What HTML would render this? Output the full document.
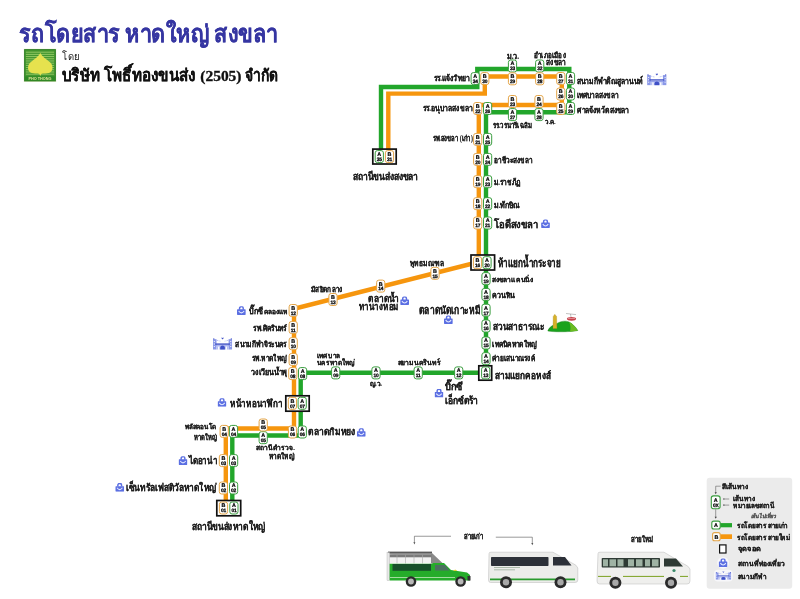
<!DOCTYPE html>
<html><head><meta charset="utf-8"><style>
html,body{margin:0;padding:0;background:#fff;}
body{width:800px;height:599px;overflow:hidden;position:relative;}
svg{position:absolute;left:0;top:0;}
#m{will-change:transform;}
.sl{font-family:"Liberation Sans",sans-serif;font-size:5.4px;font-weight:bold;text-anchor:middle;fill:#000;stroke:#000;stroke-width:0.2px;text-rendering:geometricPrecision;}
.sn{font-family:"Liberation Sans",sans-serif;font-size:4.9px;font-weight:bold;text-anchor:middle;fill:#000;stroke:#000;stroke-width:0.25px;letter-spacing:-0.2px;text-rendering:geometricPrecision;}
.t{font-family:"Liberation Serif",serif;}
</style></head><body>
<svg id="m" width="800" height="599" viewBox="0 0 800 599">
<rect x="706.7" y="477.8" width="85.5" height="110.9" rx="3" fill="#ebebeb"/><path d="M720.7,486.2 H715.7 V493" fill="none" stroke="#444" stroke-width="0.5"/><path d="M714.6,492.2 L715.7,494.2 L716.8,492.2 Z" fill="#444"/><rect x="711.3" y="495.9" width="8.8" height="12.8" rx="2.2" fill="#fff" stroke="#3a9d3f" stroke-width="1.1"/><text x="715.7" y="501.6" class="sl">A</text><text x="715.7" y="507" class="sn">0X</text><path d="M723,499 H729.2 M723,505.1 H729.2" stroke="#444" stroke-width="0.5"/><path d="M723,499 l1.3,-0.8 v1.6 Z M723,505.1 l1.3,-0.8 v1.6 Z" fill="#444"/><path d="M715.7,509.3 V517.5" stroke="#444" stroke-width="0.5"/><path d="M714.6,516.8 L715.7,518.8 L716.8,516.8 Z" fill="#444"/><rect x="720" y="523.1" width="12" height="4.2" fill="#22a62b"/><rect x="711.8" y="521.1" width="8.4" height="7.9" rx="2" fill="#fff" stroke="#3a9d3f" stroke-width="1.1"/><text x="716" y="527.3" class="sl">A</text><rect x="720" y="534.3" width="12" height="4.7" fill="#f6960e"/><rect x="712.6" y="532.6" width="7.6" height="8.2" rx="2" fill="#fff" stroke="#e3a447" stroke-width="1.1"/><text x="716.4" y="539" class="sl">B</text><rect x="719.6" y="544.9" width="6.4" height="8.1" fill="#fff" stroke="#111" stroke-width="1.2"/><circle cx="723.1" cy="562.9" r="5.9" fill="#f8f8fb"/><svg x="718.7" y="558.4" width="8.8" height="8.6" viewBox="0 0 9 8.8" preserveAspectRatio="none"><path d="M2.6,3.6 V2.2 A1.9,1.9 0 0 1 6.4,2.2 V3.6" fill="none" stroke="#5b6fe2" stroke-width="1.5"/><rect x="0" y="3.1" width="9" height="5.7" rx="0.7" fill="#5b6fe2"/><path d="M1.7,4.8 Q4.5,8.6 7.3,4.8" fill="none" stroke="#e6eaff" stroke-width="1.1"/></svg><rect x="714" y="569.8" width="18.8" height="11.6" rx="4" fill="#f7f7fa"/><svg x="715.5" y="571.1" width="15.8" height="8.8" viewBox="0 0 20 13" preserveAspectRatio="none"><rect x="0.2" y="2.2" width="3.6" height="10.3" fill="#8a98e8"/><rect x="16.2" y="2.2" width="3.6" height="10.3" fill="#8a98e8"/><g fill="#fff"><rect x="1" y="4.2" width="1.2" height="0.8"/><rect x="1" y="6.6" width="1.2" height="0.8"/><rect x="1" y="9" width="1.2" height="0.8"/><rect x="17.8" y="4.2" width="1.2" height="0.8"/><rect x="17.8" y="6.6" width="1.2" height="0.8"/><rect x="17.8" y="9" width="1.2" height="0.8"/></g><rect x="3.8" y="9.3" width="12.4" height="3.2" fill="#b4bef2"/><rect x="2.5" y="6.4" width="15" height="1.4" fill="#3f50c6"/><rect x="3" y="8.3" width="14" height="0.9" fill="#8a98e8"/><path d="M7.6,12.6 V10.6 A2.4,2 0 0 1 12.4,10.6 V12.6 Z" fill="#3f50c6"/><rect x="5.4" y="9.6" width="1.3" height="3.2" fill="#fff"/><rect x="13.3" y="9.6" width="1.3" height="3.2" fill="#fff"/><path d="M1,2.6 L8,4.2 M19,2.6 L12,4.2" stroke="#8a98e8" stroke-width="0.6" stroke-dasharray="1 0.7"/><path d="M8.7,0.9 Q9.3,0 10,0.9 Q10.7,0 11.3,0.9 L10,2.5 Z" fill="#3f50c6"/><rect x="0.4" y="1.4" width="1.2" height="1" fill="#3f50c6"/><rect x="18.4" y="1.4" width="1.2" height="1" fill="#3f50c6"/></svg><path d="M381,152 V87 H477.3 V69 H569.3 V112.2 H486 V372.8 H300.7 V435.5 H232.3 V508" fill="none" stroke="#22a62b" stroke-width="4.4" stroke-linejoin="miter"/><path d="M388.3,152 V93.6 H484.8 V76.5 H561.8 V105 H478.8 V262 L294,308.8 V428.5 H225.8 V508" fill="none" stroke="#f6960e" stroke-width="4.4" stroke-linejoin="miter"/><rect x="372.8" y="149.10000000000002" width="23.4" height="14.9" fill="#fff" stroke="#111" stroke-width="1.7"/><rect x="471.0" y="255.0" width="23.599999999999987" height="15.000000000000023" fill="#fff" stroke="#111" stroke-width="1.7"/><rect x="478.8" y="365.8" width="12.9" height="14.4" fill="#fff" stroke="#111" stroke-width="1.7"/><rect x="285.8" y="395.8" width="23.4" height="15.4" fill="#fff" stroke="#111" stroke-width="1.7"/><rect x="216.8" y="500.5" width="23.9" height="15.300000000000034" fill="#fff" stroke="#111" stroke-width="1.7"/><rect x="375.2" y="150.6" width="8.2" height="12" rx="2.3" fill="#fff" stroke="#3a9d3f" stroke-width="1"/><text x="379.3" y="156.0" class="sl">A</text><text x="379.3" y="160.9" class="sn">35</text><rect x="471.1" y="72.6" width="8.2" height="12" rx="2.3" fill="#fff" stroke="#3a9d3f" stroke-width="1"/><text x="475.2" y="78.0" class="sl">A</text><text x="475.2" y="82.9" class="sn">34</text><rect x="508.4" y="60.0" width="8.2" height="12" rx="2.3" fill="#fff" stroke="#3a9d3f" stroke-width="1"/><text x="512.5" y="65.4" class="sl">A</text><text x="512.5" y="70.3" class="sn">33</text><rect x="535.6" y="60.0" width="8.2" height="12" rx="2.3" fill="#fff" stroke="#3a9d3f" stroke-width="1"/><text x="539.7" y="65.4" class="sl">A</text><text x="539.7" y="70.3" class="sn">32</text><rect x="566.4" y="72.5" width="8.2" height="12" rx="2.3" fill="#fff" stroke="#3a9d3f" stroke-width="1"/><text x="570.5" y="77.9" class="sl">A</text><text x="570.5" y="82.8" class="sn">31</text><rect x="566.4" y="88.0" width="8.2" height="12" rx="2.3" fill="#fff" stroke="#3a9d3f" stroke-width="1"/><text x="570.5" y="93.4" class="sl">A</text><text x="570.5" y="98.3" class="sn">30</text><rect x="566.4" y="102.5" width="8.2" height="12" rx="2.3" fill="#fff" stroke="#3a9d3f" stroke-width="1"/><text x="570.5" y="107.9" class="sl">A</text><text x="570.5" y="112.8" class="sn">29</text><rect x="534.9" y="108.6" width="8.2" height="12" rx="2.3" fill="#fff" stroke="#3a9d3f" stroke-width="1"/><text x="539.0" y="114.0" class="sl">A</text><text x="539.0" y="118.9" class="sn">28</text><rect x="508.4" y="108.6" width="8.2" height="12" rx="2.3" fill="#fff" stroke="#3a9d3f" stroke-width="1"/><text x="512.5" y="114.0" class="sl">A</text><text x="512.5" y="118.9" class="sn">27</text><rect x="483.5" y="102.5" width="8.2" height="12" rx="2.3" fill="#fff" stroke="#3a9d3f" stroke-width="1"/><text x="487.6" y="107.9" class="sl">A</text><text x="487.6" y="112.8" class="sn">26</text><rect x="483.5" y="133.4" width="8.2" height="12" rx="2.3" fill="#fff" stroke="#3a9d3f" stroke-width="1"/><text x="487.6" y="138.8" class="sl">A</text><text x="487.6" y="143.7" class="sn">25</text><rect x="483.5" y="153.4" width="8.2" height="12" rx="2.3" fill="#fff" stroke="#3a9d3f" stroke-width="1"/><text x="487.6" y="158.8" class="sl">A</text><text x="487.6" y="163.7" class="sn">24</text><rect x="483.5" y="175.7" width="8.2" height="12" rx="2.3" fill="#fff" stroke="#3a9d3f" stroke-width="1"/><text x="487.6" y="181.1" class="sl">A</text><text x="487.6" y="186.0" class="sn">23</text><rect x="483.5" y="197.7" width="8.2" height="12" rx="2.3" fill="#fff" stroke="#3a9d3f" stroke-width="1"/><text x="487.6" y="203.1" class="sl">A</text><text x="487.6" y="208.0" class="sn">22</text><rect x="483.5" y="217.0" width="8.2" height="12" rx="2.3" fill="#fff" stroke="#3a9d3f" stroke-width="1"/><text x="487.6" y="222.4" class="sl">A</text><text x="487.6" y="227.3" class="sn">21</text><rect x="482.9" y="256.7" width="8.2" height="12" rx="2.3" fill="#fff" stroke="#3a9d3f" stroke-width="1"/><text x="487.0" y="262.1" class="sl">A</text><text x="487.0" y="267.0" class="sn">20</text><rect x="481.9" y="272.7" width="8.2" height="12" rx="2.3" fill="#fff" stroke="#3a9d3f" stroke-width="1"/><text x="486.0" y="278.1" class="sl">A</text><text x="486.0" y="283.0" class="sn">19</text><rect x="481.9" y="288.5" width="8.2" height="12" rx="2.3" fill="#fff" stroke="#3a9d3f" stroke-width="1"/><text x="486.0" y="293.9" class="sl">A</text><text x="486.0" y="298.8" class="sn">18</text><rect x="481.9" y="304.2" width="8.2" height="12" rx="2.3" fill="#fff" stroke="#3a9d3f" stroke-width="1"/><text x="486.0" y="309.6" class="sl">A</text><text x="486.0" y="314.5" class="sn">17</text><rect x="481.9" y="320.0" width="8.2" height="12" rx="2.3" fill="#fff" stroke="#3a9d3f" stroke-width="1"/><text x="486.0" y="325.4" class="sl">A</text><text x="486.0" y="330.3" class="sn">16</text><rect x="481.9" y="337.0" width="8.2" height="12" rx="2.3" fill="#fff" stroke="#3a9d3f" stroke-width="1"/><text x="486.0" y="342.4" class="sl">A</text><text x="486.0" y="347.3" class="sn">15</text><rect x="481.9" y="352.7" width="8.2" height="12" rx="2.3" fill="#fff" stroke="#3a9d3f" stroke-width="1"/><text x="486.0" y="358.1" class="sl">A</text><text x="486.0" y="363.0" class="sn">14</text><rect x="481.6" y="366.9" width="8.2" height="12" rx="2.3" fill="#fff" stroke="#3a9d3f" stroke-width="1"/><text x="485.7" y="372.3" class="sl">A</text><text x="485.7" y="377.2" class="sn">13</text><rect x="454.6" y="366.9" width="8.2" height="12" rx="2.3" fill="#fff" stroke="#3a9d3f" stroke-width="1"/><text x="458.7" y="372.3" class="sl">A</text><text x="458.7" y="377.2" class="sn">12</text><rect x="414.1" y="366.9" width="8.2" height="12" rx="2.3" fill="#fff" stroke="#3a9d3f" stroke-width="1"/><text x="418.2" y="372.3" class="sl">A</text><text x="418.2" y="377.2" class="sn">11</text><rect x="371.9" y="366.9" width="8.2" height="12" rx="2.3" fill="#fff" stroke="#3a9d3f" stroke-width="1"/><text x="376.0" y="372.3" class="sl">A</text><text x="376.0" y="377.2" class="sn">10</text><rect x="331.6" y="366.9" width="8.2" height="12" rx="2.3" fill="#fff" stroke="#3a9d3f" stroke-width="1"/><text x="335.7" y="372.3" class="sl">A</text><text x="335.7" y="377.2" class="sn">09</text><rect x="298.5" y="367.6" width="8.2" height="12" rx="2.3" fill="#fff" stroke="#3a9d3f" stroke-width="1"/><text x="302.6" y="373.0" class="sl">A</text><text x="302.6" y="377.9" class="sn">08</text><rect x="298.1" y="397.3" width="8.2" height="12" rx="2.3" fill="#fff" stroke="#3a9d3f" stroke-width="1"/><text x="302.2" y="402.7" class="sl">A</text><text x="302.2" y="407.6" class="sn">07</text><rect x="298.2" y="426.0" width="8.2" height="12" rx="2.3" fill="#fff" stroke="#3a9d3f" stroke-width="1"/><text x="302.3" y="431.4" class="sl">A</text><text x="302.3" y="436.3" class="sn">06</text><rect x="259.1" y="431.7" width="8.2" height="12" rx="2.3" fill="#fff" stroke="#3a9d3f" stroke-width="1"/><text x="263.2" y="437.1" class="sl">A</text><text x="263.2" y="442.0" class="sn">05</text><rect x="229.4" y="425.4" width="8.2" height="12" rx="2.3" fill="#fff" stroke="#3a9d3f" stroke-width="1"/><text x="233.5" y="430.8" class="sl">A</text><text x="233.5" y="435.7" class="sn">04</text><rect x="229.5" y="454.6" width="8.2" height="12" rx="2.3" fill="#fff" stroke="#3a9d3f" stroke-width="1"/><text x="233.6" y="460.0" class="sl">A</text><text x="233.6" y="464.9" class="sn">03</text><rect x="229.5" y="482.0" width="8.2" height="12" rx="2.3" fill="#fff" stroke="#3a9d3f" stroke-width="1"/><text x="233.6" y="487.4" class="sl">A</text><text x="233.6" y="492.3" class="sn">02</text><rect x="229.8" y="502.0" width="8.2" height="12" rx="2.3" fill="#fff" stroke="#3a9d3f" stroke-width="1"/><text x="233.9" y="507.4" class="sl">A</text><text x="233.9" y="512.3" class="sn">01</text><rect x="385.4" y="150.6" width="8.2" height="12" rx="2.3" fill="#fff" stroke="#e3a447" stroke-width="1"/><text x="389.5" y="156.0" class="sl">B</text><text x="389.5" y="160.9" class="sn">31</text><rect x="480.7" y="72.6" width="8.2" height="12" rx="2.3" fill="#fff" stroke="#e3a447" stroke-width="1"/><text x="484.8" y="78.0" class="sl">B</text><text x="484.8" y="82.9" class="sn">30</text><rect x="508.4" y="72.8" width="8.2" height="12" rx="2.3" fill="#fff" stroke="#e3a447" stroke-width="1"/><text x="512.5" y="78.2" class="sl">B</text><text x="512.5" y="83.1" class="sn">29</text><rect x="535.6" y="72.8" width="8.2" height="12" rx="2.3" fill="#fff" stroke="#e3a447" stroke-width="1"/><text x="539.7" y="78.2" class="sl">B</text><text x="539.7" y="83.1" class="sn">28</text><rect x="556.7" y="72.5" width="8.2" height="12" rx="2.3" fill="#fff" stroke="#e3a447" stroke-width="1"/><text x="560.8" y="77.9" class="sl">B</text><text x="560.8" y="82.8" class="sn">27</text><rect x="556.7" y="88.0" width="8.2" height="12" rx="2.3" fill="#fff" stroke="#e3a447" stroke-width="1"/><text x="560.8" y="93.4" class="sl">B</text><text x="560.8" y="98.3" class="sn">26</text><rect x="556.7" y="102.5" width="8.2" height="12" rx="2.3" fill="#fff" stroke="#e3a447" stroke-width="1"/><text x="560.8" y="107.9" class="sl">B</text><text x="560.8" y="112.8" class="sn">25</text><rect x="534.9" y="95.5" width="8.2" height="12" rx="2.3" fill="#fff" stroke="#e3a447" stroke-width="1"/><text x="539.0" y="100.9" class="sl">B</text><text x="539.0" y="105.8" class="sn">24</text><rect x="508.4" y="95.5" width="8.2" height="12" rx="2.3" fill="#fff" stroke="#e3a447" stroke-width="1"/><text x="512.5" y="100.9" class="sl">B</text><text x="512.5" y="105.8" class="sn">23</text><rect x="473.6" y="102.5" width="8.2" height="12" rx="2.3" fill="#fff" stroke="#e3a447" stroke-width="1"/><text x="477.7" y="107.9" class="sl">B</text><text x="477.7" y="112.8" class="sn">22</text><rect x="473.6" y="133.4" width="8.2" height="12" rx="2.3" fill="#fff" stroke="#e3a447" stroke-width="1"/><text x="477.7" y="138.8" class="sl">B</text><text x="477.7" y="143.7" class="sn">21</text><rect x="473.6" y="153.4" width="8.2" height="12" rx="2.3" fill="#fff" stroke="#e3a447" stroke-width="1"/><text x="477.7" y="158.8" class="sl">B</text><text x="477.7" y="163.7" class="sn">20</text><rect x="473.6" y="175.7" width="8.2" height="12" rx="2.3" fill="#fff" stroke="#e3a447" stroke-width="1"/><text x="477.7" y="181.1" class="sl">B</text><text x="477.7" y="186.0" class="sn">19</text><rect x="473.6" y="197.7" width="8.2" height="12" rx="2.3" fill="#fff" stroke="#e3a447" stroke-width="1"/><text x="477.7" y="203.1" class="sl">B</text><text x="477.7" y="208.0" class="sn">18</text><rect x="473.6" y="217.0" width="8.2" height="12" rx="2.3" fill="#fff" stroke="#e3a447" stroke-width="1"/><text x="477.7" y="222.4" class="sl">B</text><text x="477.7" y="227.3" class="sn">17</text><rect x="473.4" y="256.7" width="8.2" height="12" rx="2.3" fill="#fff" stroke="#e3a447" stroke-width="1"/><text x="477.5" y="262.1" class="sl">B</text><text x="477.5" y="267.0" class="sn">16</text><rect x="430.9" y="267.3" width="8.2" height="12" rx="2.3" fill="#fff" stroke="#e3a447" stroke-width="1"/><text x="435.0" y="272.7" class="sl">B</text><text x="435.0" y="277.6" class="sn">15</text><rect x="376.6" y="280.1" width="8.2" height="12" rx="2.3" fill="#fff" stroke="#e3a447" stroke-width="1"/><text x="380.7" y="285.5" class="sl">B</text><text x="380.7" y="290.4" class="sn">14</text><rect x="328.9" y="293.5" width="8.2" height="12" rx="2.3" fill="#fff" stroke="#e3a447" stroke-width="1"/><text x="333.0" y="298.9" class="sl">B</text><text x="333.0" y="303.8" class="sn">13</text><rect x="289.1" y="304.5" width="8.2" height="12" rx="2.3" fill="#fff" stroke="#e3a447" stroke-width="1"/><text x="293.2" y="309.9" class="sl">B</text><text x="293.2" y="314.8" class="sn">12</text><rect x="289.1" y="321.5" width="8.2" height="12" rx="2.3" fill="#fff" stroke="#e3a447" stroke-width="1"/><text x="293.2" y="326.9" class="sl">B</text><text x="293.2" y="331.8" class="sn">11</text><rect x="289.1" y="337.7" width="8.2" height="12" rx="2.3" fill="#fff" stroke="#e3a447" stroke-width="1"/><text x="293.2" y="343.1" class="sl">B</text><text x="293.2" y="348.0" class="sn">10</text><rect x="289.1" y="353.5" width="8.2" height="12" rx="2.3" fill="#fff" stroke="#e3a447" stroke-width="1"/><text x="293.2" y="358.9" class="sl">B</text><text x="293.2" y="363.8" class="sn">09</text><rect x="288.7" y="367.6" width="8.2" height="12" rx="2.3" fill="#fff" stroke="#e3a447" stroke-width="1"/><text x="292.8" y="373.0" class="sl">B</text><text x="292.8" y="377.9" class="sn">08</text><rect x="288.3" y="397.3" width="8.2" height="12" rx="2.3" fill="#fff" stroke="#e3a447" stroke-width="1"/><text x="292.4" y="402.7" class="sl">B</text><text x="292.4" y="407.6" class="sn">07</text><rect x="288.4" y="426.0" width="8.2" height="12" rx="2.3" fill="#fff" stroke="#e3a447" stroke-width="1"/><text x="292.5" y="431.4" class="sl">B</text><text x="292.5" y="436.3" class="sn">06</text><rect x="259.1" y="419.0" width="8.2" height="12" rx="2.3" fill="#fff" stroke="#e3a447" stroke-width="1"/><text x="263.2" y="424.4" class="sl">B</text><text x="263.2" y="429.3" class="sn">05</text><rect x="220.1" y="425.4" width="8.2" height="12" rx="2.3" fill="#fff" stroke="#e3a447" stroke-width="1"/><text x="224.2" y="430.8" class="sl">B</text><text x="224.2" y="435.7" class="sn">04</text><rect x="219.3" y="454.6" width="8.2" height="12" rx="2.3" fill="#fff" stroke="#e3a447" stroke-width="1"/><text x="223.4" y="460.0" class="sl">B</text><text x="223.4" y="464.9" class="sn">03</text><rect x="219.3" y="482.0" width="8.2" height="12" rx="2.3" fill="#fff" stroke="#e3a447" stroke-width="1"/><text x="223.4" y="487.4" class="sl">B</text><text x="223.4" y="492.3" class="sn">02</text><rect x="219.4" y="502.0" width="8.2" height="12" rx="2.3" fill="#fff" stroke="#e3a447" stroke-width="1"/><text x="223.5" y="507.4" class="sl">B</text><text x="223.5" y="512.3" class="sn">01</text><text x="433.8" y="81.2" font-size="8.33" textLength="36.0" lengthAdjust="spacingAndGlyphs" class="t" fill="#1e1e1e" stroke="#1e1e1e" stroke-width="0.18" font-weight="bold">รร.แจ้งวิทยา</text><text x="506.8" y="58.8" font-size="7.50" textLength="12.4" lengthAdjust="spacingAndGlyphs" class="t" fill="#1e1e1e" stroke="#1e1e1e" stroke-width="0.18" font-weight="bold">ม.ว.</text><text x="533.8" y="58.2" font-size="7.50" textLength="32.1" lengthAdjust="spacingAndGlyphs" class="t" fill="#1e1e1e" stroke="#1e1e1e" stroke-width="0.18" font-weight="bold">อำเภอเมือง</text><text x="545.6" y="65.0" font-size="7.50" textLength="20.3" lengthAdjust="spacingAndGlyphs" class="t" fill="#1e1e1e" stroke="#1e1e1e" stroke-width="0.18" font-weight="bold">สงขลา</text><text x="576.9" y="83.8" font-size="8.83" textLength="66.0" lengthAdjust="spacingAndGlyphs" class="t" fill="#1e1e1e" stroke="#1e1e1e" stroke-width="0.18" font-weight="bold">สนามกีฬาติณสูลานนท์</text><text x="576.9" y="97.5" font-size="8.33" textLength="41.9" lengthAdjust="spacingAndGlyphs" class="t" fill="#1e1e1e" stroke="#1e1e1e" stroke-width="0.18" font-weight="bold">เทศบาลสงขลา</text><text x="576.9" y="112.6" font-size="8.83" textLength="52.2" lengthAdjust="spacingAndGlyphs" class="t" fill="#1e1e1e" stroke="#1e1e1e" stroke-width="0.18" font-weight="bold">ศาลจังหวัดสงขลา</text><text x="422.8" y="111.3" font-size="8.33" textLength="50.1" lengthAdjust="spacingAndGlyphs" class="t" fill="#1e1e1e" stroke="#1e1e1e" stroke-width="0.18" font-weight="bold">รร.อนุบาลสงขลา</text><text x="492.5" y="128.1" font-size="7.50" textLength="39.4" lengthAdjust="spacingAndGlyphs" class="t" fill="#1e1e1e" stroke="#1e1e1e" stroke-width="0.18" font-weight="bold">รร.วรนารีเฉลิม</text><text x="545.0" y="123.8" font-size="6.67" textLength="10.6" lengthAdjust="spacingAndGlyphs" class="t" fill="#1e1e1e" stroke="#1e1e1e" stroke-width="0.18" font-weight="bold">ว.ค.</text><text x="433.0" y="140.6" font-size="8.33" textLength="39.9" lengthAdjust="spacingAndGlyphs" class="t" fill="#1e1e1e" stroke="#1e1e1e" stroke-width="0.18" font-weight="bold">รพ.สงขลา (เก่า)</text><text x="493.8" y="163.1" font-size="8.33" textLength="38.8" lengthAdjust="spacingAndGlyphs" class="t" fill="#1e1e1e" stroke="#1e1e1e" stroke-width="0.18" font-weight="bold">อาชีวะสงขลา</text><text x="494.4" y="185.0" font-size="8.33" textLength="26.2" lengthAdjust="spacingAndGlyphs" class="t" fill="#1e1e1e" stroke="#1e1e1e" stroke-width="0.18" font-weight="bold">ม.ราชภัฏ</text><text x="494.4" y="207.5" font-size="8.33" textLength="25.6" lengthAdjust="spacingAndGlyphs" class="t" fill="#1e1e1e" stroke="#1e1e1e" stroke-width="0.18" font-weight="bold">ม.ทักษิณ</text><text x="493.8" y="227.5" font-size="10.50" textLength="44.2" lengthAdjust="spacingAndGlyphs" class="t" fill="#1e1e1e" stroke="#1e1e1e" stroke-width="0.18" font-weight="bold">โอดีสงขลา</text><text x="353.0" y="180.0" font-size="10.50" textLength="65.0" lengthAdjust="spacingAndGlyphs" class="t" fill="#1e1e1e" stroke="#1e1e1e" stroke-width="0.18" font-weight="bold">สถานีขนส่งสงขลา</text><text x="497.6" y="267.0" font-size="11.67" textLength="63.4" lengthAdjust="spacingAndGlyphs" class="t" fill="#1e1e1e" stroke="#1e1e1e" stroke-width="0.18" font-weight="bold">ห้าแยกน้ำกระจาย</text><text x="410.0" y="266.0" font-size="7.50" textLength="34.0" lengthAdjust="spacingAndGlyphs" class="t" fill="#1e1e1e" stroke="#1e1e1e" stroke-width="0.18" font-weight="bold">พุทธมณฑล</text><text x="492.0" y="282.0" font-size="7.00" textLength="41.0" lengthAdjust="spacingAndGlyphs" class="t" fill="#1e1e1e" stroke="#1e1e1e" stroke-width="0.18" font-weight="bold">สงขลาแคนนิ่ง</text><text x="492.0" y="297.6" font-size="7.33" textLength="23.2" lengthAdjust="spacingAndGlyphs" class="t" fill="#1e1e1e" stroke="#1e1e1e" stroke-width="0.18" font-weight="bold">ควนหิน</text><text x="311.2" y="291.8" font-size="7.50" textLength="31.5" lengthAdjust="spacingAndGlyphs" class="t" fill="#1e1e1e" stroke="#1e1e1e" stroke-width="0.18" font-weight="bold">มัสยิดกลาง</text><text x="368.2" y="301.5" font-size="9.17" textLength="30.8" lengthAdjust="spacingAndGlyphs" class="t" fill="#1e1e1e" stroke="#1e1e1e" stroke-width="0.18" font-weight="bold">ตลาดน้ำ</text><text x="358.5" y="309.8" font-size="10.00" textLength="40.5" lengthAdjust="spacingAndGlyphs" class="t" fill="#1e1e1e" stroke="#1e1e1e" stroke-width="0.18" font-weight="bold">ทานางหอม</text><text x="419.0" y="314.0" font-size="10.83" textLength="61.0" lengthAdjust="spacingAndGlyphs" class="t" fill="#1e1e1e" stroke="#1e1e1e" stroke-width="0.18" font-weight="bold">ตลาดนัดเกาะหมี</text><text x="248.7" y="314.0" font-size="8.83" textLength="14.0" lengthAdjust="spacingAndGlyphs" class="t" fill="#1e1e1e" stroke="#1e1e1e" stroke-width="0.18" font-weight="bold">บิ๊กซี</text><text x="264.0" y="314.0" font-size="6.67" textLength="22.7" lengthAdjust="spacingAndGlyphs" class="t" fill="#1e1e1e" stroke="#1e1e1e" stroke-width="0.18" font-weight="bold">คลองแห</text><text x="253.4" y="330.7" font-size="7.83" textLength="33.3" lengthAdjust="spacingAndGlyphs" class="t" fill="#1e1e1e" stroke="#1e1e1e" stroke-width="0.18" font-weight="bold">รพ.ศิครินทร์</text><text x="235.3" y="346.7" font-size="7.83" textLength="51.4" lengthAdjust="spacingAndGlyphs" class="t" fill="#1e1e1e" stroke="#1e1e1e" stroke-width="0.18" font-weight="bold">สนามกีฬาจิระนคร</text><text x="252.0" y="361.4" font-size="7.83" textLength="34.7" lengthAdjust="spacingAndGlyphs" class="t" fill="#1e1e1e" stroke="#1e1e1e" stroke-width="0.18" font-weight="bold">รพ.หาดใหญ่</text><text x="251.4" y="375.4" font-size="7.83" textLength="35.3" lengthAdjust="spacingAndGlyphs" class="t" fill="#1e1e1e" stroke="#1e1e1e" stroke-width="0.18" font-weight="bold">วงเวียนน้ำพุ</text><text x="492.7" y="330.0" font-size="10.00" textLength="51.3" lengthAdjust="spacingAndGlyphs" class="t" fill="#1e1e1e" stroke="#1e1e1e" stroke-width="0.18" font-weight="bold">สวนสาธารณะ</text><text x="492.0" y="346.7" font-size="7.83" textLength="45.4" lengthAdjust="spacingAndGlyphs" class="t" fill="#1e1e1e" stroke="#1e1e1e" stroke-width="0.18" font-weight="bold">เทคนิคหาดใหญ่</text><text x="492.0" y="361.4" font-size="7.83" textLength="42.7" lengthAdjust="spacingAndGlyphs" class="t" fill="#1e1e1e" stroke="#1e1e1e" stroke-width="0.18" font-weight="bold">ค่ายเสนาณรงค์</text><text x="494.7" y="378.8" font-size="10.00" textLength="56.1" lengthAdjust="spacingAndGlyphs" class="t" fill="#1e1e1e" stroke="#1e1e1e" stroke-width="0.18" font-weight="bold">สามแยกคอหงส์</text><text x="317.0" y="358.1" font-size="7.17" textLength="22.8" lengthAdjust="spacingAndGlyphs" class="t" fill="#1e1e1e" stroke="#1e1e1e" stroke-width="0.18" font-weight="bold">เทศบาล</text><text x="317.0" y="365.1" font-size="7.17" textLength="37.6" lengthAdjust="spacingAndGlyphs" class="t" fill="#1e1e1e" stroke="#1e1e1e" stroke-width="0.18" font-weight="bold">นครหาดใหญ่</text><text x="397.6" y="365.1" font-size="7.17" textLength="42.9" lengthAdjust="spacingAndGlyphs" class="t" fill="#1e1e1e" stroke="#1e1e1e" stroke-width="0.18" font-weight="bold">สยามนครินทร์</text><text x="369.5" y="386.1" font-size="7.17" textLength="12.3" lengthAdjust="spacingAndGlyphs" class="t" fill="#1e1e1e" stroke="#1e1e1e" stroke-width="0.18" font-weight="bold">ญ.ว.</text><text x="445.0" y="390.0" font-size="10.00" textLength="17.5" lengthAdjust="spacingAndGlyphs" class="t" fill="#1e1e1e" stroke="#1e1e1e" stroke-width="0.18" font-weight="bold">บิ๊กซี</text><text x="445.0" y="403.8" font-size="10.00" textLength="33.0" lengthAdjust="spacingAndGlyphs" class="t" fill="#1e1e1e" stroke="#1e1e1e" stroke-width="0.18" font-weight="bold">เอ็กซ์ตร้า</text><text x="230.0" y="406.5" font-size="10.00" textLength="52.5" lengthAdjust="spacingAndGlyphs" class="t" fill="#1e1e1e" stroke="#1e1e1e" stroke-width="0.18" font-weight="bold">หน้าหอนาฬิกา</text><text x="308.2" y="435.0" font-size="9.17" textLength="46.2" lengthAdjust="spacingAndGlyphs" class="t" fill="#1e1e1e" stroke="#1e1e1e" stroke-width="0.18" font-weight="bold">ตลาดกิมหยง</text><text x="185.0" y="428.8" font-size="6.67" textLength="31.2" lengthAdjust="spacingAndGlyphs" class="t" fill="#1e1e1e" stroke="#1e1e1e" stroke-width="0.18" font-weight="bold">พลัสคอนโด</text><text x="193.8" y="440.0" font-size="7.50" textLength="22.5" lengthAdjust="spacingAndGlyphs" class="t" fill="#1e1e1e" stroke="#1e1e1e" stroke-width="0.18" font-weight="bold">หาดใหญ่</text><text x="256.2" y="450.0" font-size="6.67" textLength="38.8" lengthAdjust="spacingAndGlyphs" class="t" fill="#1e1e1e" stroke="#1e1e1e" stroke-width="0.18" font-weight="bold">สถานีตำรวจ.</text><text x="268.8" y="458.8" font-size="7.50" textLength="25.0" lengthAdjust="spacingAndGlyphs" class="t" fill="#1e1e1e" stroke="#1e1e1e" stroke-width="0.18" font-weight="bold">หาดใหญ่</text><text x="188.8" y="463.8" font-size="10.00" textLength="28.8" lengthAdjust="spacingAndGlyphs" class="t" fill="#1e1e1e" stroke="#1e1e1e" stroke-width="0.18" font-weight="bold">ไดอาน่า</text><text x="126.0" y="490.5" font-size="10.00" textLength="91.0" lengthAdjust="spacingAndGlyphs" class="t" fill="#1e1e1e" stroke="#1e1e1e" stroke-width="0.18" font-weight="bold">เซ็นทรัลเฟสติวัลหาดใหญ่</text><text x="192.3" y="530.0" font-size="10.50" textLength="73.2" lengthAdjust="spacingAndGlyphs" class="t" fill="#1e1e1e" stroke="#1e1e1e" stroke-width="0.18" font-weight="bold">สถานีขนส่งหาดใหญ่</text><text x="464.0" y="539.2" font-size="7.67" textLength="19.5" lengthAdjust="spacingAndGlyphs" class="t" fill="#1e1e1e" stroke="#1e1e1e" stroke-width="0.18" font-weight="bold">สายเก่า</text><text x="631.0" y="542.0" font-size="7.50" textLength="22.0" lengthAdjust="spacingAndGlyphs" class="t" fill="#1e1e1e" stroke="#1e1e1e" stroke-width="0.18" font-weight="bold">สายใหม่</text><text x="721.9" y="489.1" font-size="6.67" textLength="25.8" lengthAdjust="spacingAndGlyphs" class="t" fill="#1e1e1e" stroke="#1e1e1e" stroke-width="0.18" font-weight="bold">สีเส้นทาง</text><text x="733.1" y="500.9" font-size="6.67" textLength="21.4" lengthAdjust="spacingAndGlyphs" class="t" fill="#1e1e1e" stroke="#1e1e1e" stroke-width="0.18" font-weight="bold">เส้นทาง</text><text x="733.1" y="508.2" font-size="7.17" textLength="41.1" lengthAdjust="spacingAndGlyphs" class="t" fill="#1e1e1e" stroke="#1e1e1e" stroke-width="0.18" font-weight="bold">หมายเลขสถานี</text><text x="737.1" y="527.9" font-size="7.17" textLength="50.6" lengthAdjust="spacingAndGlyphs" class="t" fill="#1e1e1e" stroke="#1e1e1e" stroke-width="0.18" font-weight="bold">รถโดยสาร สายเก่า</text><text x="737.1" y="539.6" font-size="7.17" textLength="53.2" lengthAdjust="spacingAndGlyphs" class="t" fill="#1e1e1e" stroke="#1e1e1e" stroke-width="0.18" font-weight="bold">รถโดยสาร สายใหม่</text><text x="737.7" y="551.3" font-size="7.00" textLength="23.4" lengthAdjust="spacingAndGlyphs" class="t" fill="#1e1e1e" stroke="#1e1e1e" stroke-width="0.18" font-weight="bold">จุดจอด</text><text x="737.7" y="565.9" font-size="7.00" textLength="46.7" lengthAdjust="spacingAndGlyphs" class="t" fill="#1e1e1e" stroke="#1e1e1e" stroke-width="0.18" font-weight="bold">สถานที่ท่องเที่ยว</text><text x="737.7" y="578.7" font-size="7.00" textLength="28.6" lengthAdjust="spacingAndGlyphs" class="t" fill="#1e1e1e" stroke="#1e1e1e" stroke-width="0.18" font-weight="bold">สนามกีฬา</text><text x="750.6" y="517.7" font-size="5.50" textLength="25.3" lengthAdjust="spacingAndGlyphs" class="t" fill="#555" stroke="#555" stroke-width="0.18" font-weight="bold" font-style="italic">เส้นไปเที่ยว</text><text x="19.4" y="41.9" font-size="24.00" textLength="258.4" lengthAdjust="spacingAndGlyphs" class="t" fill="#3636a2" stroke="#3636a2" stroke-width="0.18" font-weight="bold">รถโดยสาร หาดใหญ่ สงขลา</text><text x="62.2" y="60.3" font-size="10.50" textLength="17.2" lengthAdjust="spacingAndGlyphs" class="t" fill="#111" stroke="#111" stroke-width="0">โดย</text><text x="62.2" y="80.9" font-size="16.50" textLength="133.2" lengthAdjust="spacingAndGlyphs" class="t" fill="#111" stroke="#111" stroke-width="0.18" font-weight="bold">บริษัท โพธิ์ทองขนส่ง</text><text x="200.3" y="80.9" font-family="Liberation Serif" font-weight="bold" font-size="15" textLength="41.2" lengthAdjust="spacingAndGlyphs" fill="#111" stroke="#111" stroke-width="0.35">(2505)</text><text x="245.0" y="80.9" font-size="16.50" textLength="33.5" lengthAdjust="spacingAndGlyphs" class="t" fill="#111" stroke="#111" stroke-width="0.18" font-weight="bold">จำกัด</text><svg x="23.5" y="48.5" width="33" height="33.5" viewBox="0 0 33 33.5"><rect x="0" y="0" width="33" height="33.5" fill="#e9ecd0"/><rect x="0.6" y="0.6" width="31.8" height="32.3" fill="#2c7f22"/><rect x="1.6" y="1.6" width="29.8" height="30.3" fill="#43962f"/><rect x="2.4" y="3.20" width="28.2" height="0.95" fill="#94c865"/><rect x="2.4" y="5.40" width="28.2" height="0.95" fill="#94c865"/><rect x="2.4" y="7.60" width="28.2" height="0.95" fill="#94c865"/><rect x="2.4" y="9.80" width="28.2" height="0.95" fill="#94c865"/><rect x="2.4" y="12.00" width="28.2" height="0.95" fill="#94c865"/><rect x="2.4" y="14.20" width="28.2" height="0.95" fill="#94c865"/><rect x="2.4" y="16.40" width="28.2" height="0.95" fill="#94c865"/><rect x="2.4" y="18.60" width="28.2" height="0.95" fill="#94c865"/><rect x="2.4" y="20.80" width="28.2" height="0.95" fill="#94c865"/><rect x="2.4" y="23.00" width="28.2" height="0.95" fill="#94c865"/><rect x="2.4" y="25.20" width="28.2" height="0.95" fill="#94c865"/><path d="M16.8,4.6 C18.6,8.2 22.5,10.6 26.2,13.6 C30.2,16.8 30,23.2 25.4,24.6 C22.4,25.4 19.6,24.4 17.7,25.6 L16.8,27.4 L15.9,25.6 C14,24.4 11.2,25.4 8.2,24.6 C3.6,23.2 3.4,16.8 7.4,13.6 C11.1,10.6 15,8.2 16.8,4.6 Z" fill="#e6e24e"/><rect x="1.6" y="27.8" width="29.8" height="4.1" fill="#2f8a25"/><text x="16.5" y="31.2" font-family="Liberation Sans" font-size="3.5" font-weight="bold" fill="#e4e59a" text-anchor="middle" textLength="23" lengthAdjust="spacingAndGlyphs">PHO THONG</text></svg><svg x="541.1" y="219.4" width="8.8" height="8.6" viewBox="0 0 9 8.8" preserveAspectRatio="none"><path d="M2.6,3.6 V2.2 A1.9,1.9 0 0 1 6.4,2.2 V3.6" fill="none" stroke="#5b6fe2" stroke-width="1.5"/><rect x="0" y="3.1" width="9" height="5.7" rx="0.7" fill="#5b6fe2"/><path d="M1.7,4.8 Q4.5,8.6 7.3,4.8" fill="none" stroke="#e6eaff" stroke-width="1.1"/></svg><svg x="400.2" y="296.4" width="8.8" height="8.6" viewBox="0 0 9 8.8" preserveAspectRatio="none"><path d="M2.6,3.6 V2.2 A1.9,1.9 0 0 1 6.4,2.2 V3.6" fill="none" stroke="#5b6fe2" stroke-width="1.5"/><rect x="0" y="3.1" width="9" height="5.7" rx="0.7" fill="#5b6fe2"/><path d="M1.7,4.8 Q4.5,8.6 7.3,4.8" fill="none" stroke="#e6eaff" stroke-width="1.1"/></svg><svg x="444.0" y="315.4" width="8.8" height="8.6" viewBox="0 0 9 8.8" preserveAspectRatio="none"><path d="M2.6,3.6 V2.2 A1.9,1.9 0 0 1 6.4,2.2 V3.6" fill="none" stroke="#5b6fe2" stroke-width="1.5"/><rect x="0" y="3.1" width="9" height="5.7" rx="0.7" fill="#5b6fe2"/><path d="M1.7,4.8 Q4.5,8.6 7.3,4.8" fill="none" stroke="#e6eaff" stroke-width="1.1"/></svg><svg x="237.0" y="306.3" width="8.8" height="8.6" viewBox="0 0 9 8.8" preserveAspectRatio="none"><path d="M2.6,3.6 V2.2 A1.9,1.9 0 0 1 6.4,2.2 V3.6" fill="none" stroke="#5b6fe2" stroke-width="1.5"/><rect x="0" y="3.1" width="9" height="5.7" rx="0.7" fill="#5b6fe2"/><path d="M1.7,4.8 Q4.5,8.6 7.3,4.8" fill="none" stroke="#e6eaff" stroke-width="1.1"/></svg><svg x="434.6" y="388.9" width="8.8" height="8.6" viewBox="0 0 9 8.8" preserveAspectRatio="none"><path d="M2.6,3.6 V2.2 A1.9,1.9 0 0 1 6.4,2.2 V3.6" fill="none" stroke="#5b6fe2" stroke-width="1.5"/><rect x="0" y="3.1" width="9" height="5.7" rx="0.7" fill="#5b6fe2"/><path d="M1.7,4.8 Q4.5,8.6 7.3,4.8" fill="none" stroke="#e6eaff" stroke-width="1.1"/></svg><svg x="217.6" y="398.2" width="8.8" height="8.6" viewBox="0 0 9 8.8" preserveAspectRatio="none"><path d="M2.6,3.6 V2.2 A1.9,1.9 0 0 1 6.4,2.2 V3.6" fill="none" stroke="#5b6fe2" stroke-width="1.5"/><rect x="0" y="3.1" width="9" height="5.7" rx="0.7" fill="#5b6fe2"/><path d="M1.7,4.8 Q4.5,8.6 7.3,4.8" fill="none" stroke="#e6eaff" stroke-width="1.1"/></svg><svg x="356.9" y="428.2" width="8.8" height="8.6" viewBox="0 0 9 8.8" preserveAspectRatio="none"><path d="M2.6,3.6 V2.2 A1.9,1.9 0 0 1 6.4,2.2 V3.6" fill="none" stroke="#5b6fe2" stroke-width="1.5"/><rect x="0" y="3.1" width="9" height="5.7" rx="0.7" fill="#5b6fe2"/><path d="M1.7,4.8 Q4.5,8.6 7.3,4.8" fill="none" stroke="#e6eaff" stroke-width="1.1"/></svg><svg x="178.6" y="456.3" width="8.8" height="8.6" viewBox="0 0 9 8.8" preserveAspectRatio="none"><path d="M2.6,3.6 V2.2 A1.9,1.9 0 0 1 6.4,2.2 V3.6" fill="none" stroke="#5b6fe2" stroke-width="1.5"/><rect x="0" y="3.1" width="9" height="5.7" rx="0.7" fill="#5b6fe2"/><path d="M1.7,4.8 Q4.5,8.6 7.3,4.8" fill="none" stroke="#e6eaff" stroke-width="1.1"/></svg><svg x="115.3" y="483.1" width="8.8" height="8.6" viewBox="0 0 9 8.8" preserveAspectRatio="none"><path d="M2.6,3.6 V2.2 A1.9,1.9 0 0 1 6.4,2.2 V3.6" fill="none" stroke="#5b6fe2" stroke-width="1.5"/><rect x="0" y="3.1" width="9" height="5.7" rx="0.7" fill="#5b6fe2"/><path d="M1.7,4.8 Q4.5,8.6 7.3,4.8" fill="none" stroke="#e6eaff" stroke-width="1.1"/></svg><svg x="647.0" y="73.0" width="19.7" height="12.7" viewBox="0 0 20 13" preserveAspectRatio="none"><rect x="0.2" y="2.2" width="3.6" height="10.3" fill="#8a98e8"/><rect x="16.2" y="2.2" width="3.6" height="10.3" fill="#8a98e8"/><g fill="#fff"><rect x="1" y="4.2" width="1.2" height="0.8"/><rect x="1" y="6.6" width="1.2" height="0.8"/><rect x="1" y="9" width="1.2" height="0.8"/><rect x="17.8" y="4.2" width="1.2" height="0.8"/><rect x="17.8" y="6.6" width="1.2" height="0.8"/><rect x="17.8" y="9" width="1.2" height="0.8"/></g><rect x="3.8" y="9.3" width="12.4" height="3.2" fill="#b4bef2"/><rect x="2.5" y="6.4" width="15" height="1.4" fill="#3f50c6"/><rect x="3" y="8.3" width="14" height="0.9" fill="#8a98e8"/><path d="M7.6,12.6 V10.6 A2.4,2 0 0 1 12.4,10.6 V12.6 Z" fill="#3f50c6"/><rect x="5.4" y="9.6" width="1.3" height="3.2" fill="#fff"/><rect x="13.3" y="9.6" width="1.3" height="3.2" fill="#fff"/><path d="M1,2.6 L8,4.2 M19,2.6 L12,4.2" stroke="#8a98e8" stroke-width="0.6" stroke-dasharray="1 0.7"/><path d="M8.7,0.9 Q9.3,0 10,0.9 Q10.7,0 11.3,0.9 L10,2.5 Z" fill="#3f50c6"/><rect x="0.4" y="1.4" width="1.2" height="1" fill="#3f50c6"/><rect x="18.4" y="1.4" width="1.2" height="1" fill="#3f50c6"/></svg><svg x="212.8" y="337.0" width="19.5" height="13.0" viewBox="0 0 20 13" preserveAspectRatio="none"><rect x="0.2" y="2.2" width="3.6" height="10.3" fill="#8a98e8"/><rect x="16.2" y="2.2" width="3.6" height="10.3" fill="#8a98e8"/><g fill="#fff"><rect x="1" y="4.2" width="1.2" height="0.8"/><rect x="1" y="6.6" width="1.2" height="0.8"/><rect x="1" y="9" width="1.2" height="0.8"/><rect x="17.8" y="4.2" width="1.2" height="0.8"/><rect x="17.8" y="6.6" width="1.2" height="0.8"/><rect x="17.8" y="9" width="1.2" height="0.8"/></g><rect x="3.8" y="9.3" width="12.4" height="3.2" fill="#b4bef2"/><rect x="2.5" y="6.4" width="15" height="1.4" fill="#3f50c6"/><rect x="3" y="8.3" width="14" height="0.9" fill="#8a98e8"/><path d="M7.6,12.6 V10.6 A2.4,2 0 0 1 12.4,10.6 V12.6 Z" fill="#3f50c6"/><rect x="5.4" y="9.6" width="1.3" height="3.2" fill="#fff"/><rect x="13.3" y="9.6" width="1.3" height="3.2" fill="#fff"/><path d="M1,2.6 L8,4.2 M19,2.6 L12,4.2" stroke="#8a98e8" stroke-width="0.6" stroke-dasharray="1 0.7"/><path d="M8.7,0.9 Q9.3,0 10,0.9 Q10.7,0 11.3,0.9 L10,2.5 Z" fill="#3f50c6"/><rect x="0.4" y="1.4" width="1.2" height="1" fill="#3f50c6"/><rect x="18.4" y="1.4" width="1.2" height="1" fill="#3f50c6"/></svg><g><path d="M547.8,331 C549,327 553,325 557,323.5 C561,321 566,320.5 569,322 C572,323.5 575,326 577.8,330.5 C572,332 553,332.2 547.8,331 Z" fill="#19a21c" stroke="#137a15" stroke-width="0.4"/><path d="M569,322 C572,323.5 575,326 577.8,330.5 C575,331.2 572,331.5 570,331.5 C571,328 570.5,325 569,322 Z" fill="#6cbb22"/><path d="M553,328.5 L553.2,316.5 L554.8,314.3 L556.6,316.5 L556.9,328.5 Z" fill="#d6b12a" stroke="#a8891a" stroke-width="0.3"/><ellipse cx="571.5" cy="318.8" rx="4.6" ry="1.9" fill="#c8404a"/><path d="M567.8,318.5 H575" stroke="#f3d0d0" stroke-width="0.5"/><path d="M566,313.5 L576,314.6 M570.5,314 L571,317" stroke="#777" stroke-width="0.45"/></g><path d="M414.4,543 V536.25 H451" fill="none" stroke="#555" stroke-width="0.6"/><path d="M413.4,542.2 L414.4,544.4 L415.4,542.2 Z" fill="#555"/><path d="M495.8,537.2 H532.3 V543.8" fill="none" stroke="#555" stroke-width="0.6"/><path d="M531.3,543 L532.3,545.2 L533.3,543 Z" fill="#555"/><g><path d="M388,553.5 L389,552 H431 L432.5,553.5 L443,563.5 L431,563.5 Z" fill="#8a8a8a"/><rect x="389.5" y="554.3" width="41.5" height="9.2" fill="#f2f2f2"/><rect x="389.5" y="554.3" width="42" height="3" fill="#7a7a7a"/><rect x="388" y="551.6" width="44" height="1.4" fill="#5a5a5a"/><path d="M397,554.8 V563.5 M405.5,554.8 V563.5 M414,554.8 V563.5 M422.5,554.8 V563.5" stroke="#aaa" stroke-width="0.6"/><rect x="387" y="552.5" width="2.6" height="28" fill="#e8e8e8" stroke="#999" stroke-width="0.3"/><path d="M389.6,563.8 H432 L433,563 H444 L451,570 L467,572.5 L470,575 V580.5 H389.6 Z" fill="#25ac2a"/><rect x="392.5" y="564" width="38.5" height="6.8" fill="#17502a"/><path d="M435,565 H445 L449.5,570.5 H435 Z" fill="#4c6f60"/><path d="M390,577.5 H455" stroke="#d8f0d0" stroke-width="0.7"/><rect x="467.5" y="576" width="3" height="4.5" fill="#333"/><circle cx="411" cy="581.5" r="5.3" fill="#2a2a2a"/><circle cx="411" cy="581.5" r="2.9" fill="#b8b8b8"/><circle cx="460.6" cy="581.5" r="5.3" fill="#2a2a2a"/><circle cx="460.6" cy="581.5" r="2.9" fill="#b8b8b8"/><path d="M453,571 l2.2,-1.6 l2.2,1.6 Z" fill="#e8d030"/></g><g><path d="M489,553.5 Q489,552.2 491,552.2 H553 L572,563 Q577,565 577.8,568 V580 Q577.8,582.5 575,582.5 H490.5 Q488.5,582.5 488.5,580 Z" fill="#ececea" stroke="#b8b8b8" stroke-width="0.5"/><rect x="491" y="557" width="57.5" height="9" rx="0.8" fill="#2c3038"/><path d="M553,557 H565 L571.5,565.4 H553 Z" fill="#2c3038"/><path d="M490,579.4 H575" stroke="#2a9a2e" stroke-width="1.6"/><path d="M494,567.5 H520 M494,569.8 H515" stroke="#6a8a6a" stroke-width="0.5"/><circle cx="506" cy="582.3" r="6" fill="#2a2a2a"/><circle cx="506" cy="582.3" r="3.2" fill="#a8a8a8"/><circle cx="560.5" cy="582.3" r="6" fill="#2a2a2a"/><circle cx="560.5" cy="582.3" r="3.2" fill="#a8a8a8"/></g><g><path d="M598,553.5 Q598,552.2 600,552.2 H664 L683,563.5 Q689,566 690,569 V581 Q690,584 687,584 H599.5 Q597,584 597,581 Z" fill="#efefed" stroke="#b8b8b8" stroke-width="0.5"/><rect x="601.7" y="558" width="58.3" height="9.5" rx="0.8" fill="#2e3a34"/><g fill="#9fb3a4"><rect x="603" y="559.3" width="5" height="7"/><rect x="609.5" y="559.3" width="6.5" height="7"/><rect x="617.5" y="559.3" width="6" height="7"/><rect x="628" y="559.3" width="6" height="7"/><rect x="636" y="559.3" width="6.5" height="7"/><rect x="645" y="559.3" width="5" height="7"/><rect x="652" y="559.3" width="6.5" height="7"/><rect x="666" y="559.8" width="5" height="6"/></g><path d="M664,558.5 H676 L683,566.5 H664 Z" fill="#2e3a34"/><path d="M598,576.4 H611 M623,576.4 H664 M680,576.4 H688" stroke="#7aa020" stroke-width="1"/><circle cx="674" cy="570.5" r="1.6" fill="#3a8a6a"/><circle cx="615.4" cy="582.8" r="6" fill="#2a2a2a"/><circle cx="615.4" cy="582.8" r="3.2" fill="#a8a8a8"/><circle cx="671" cy="582.8" r="6" fill="#2a2a2a"/><circle cx="671" cy="582.8" r="3.2" fill="#a8a8a8"/></g>
</svg>
</body></html>
